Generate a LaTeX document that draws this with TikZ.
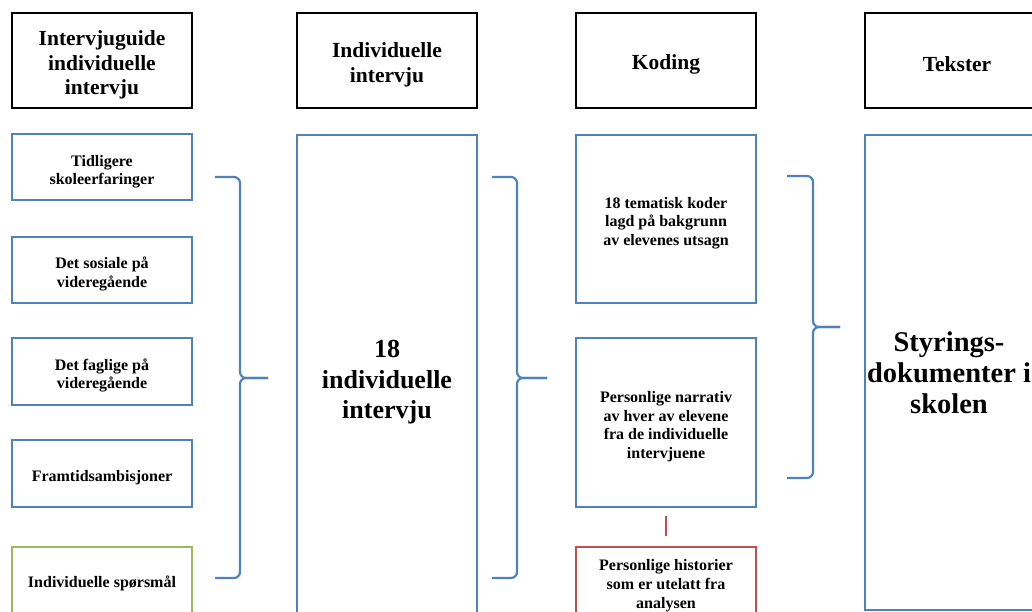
\documentclass[tikz,border=0pt]{standalone}
\usepackage{fontspec}
\setmainfont{Liberation Serif}
\definecolor{bblue}{RGB}{79,129,189}
\definecolor{bgreen}{RGB}{155,187,89}
\definecolor{bred}{RGB}{192,80,77}
\newcommand{\tr}[1]{\rule{0pt}{#1}}
\begin{document}
\begin{tikzpicture}[x=1pt,y=-1pt,
  hdr/.style={draw=black,line width=2.6pt,minimum width=180pt,minimum height=95pt,align=center,inner sep=2pt,font=\bfseries\fontsize{21.5}{24.5}\selectfont},
  sbox/.style={draw=bblue,line width=2pt,minimum width=180pt,align=center,inner sep=2pt,font=\bfseries\fontsize{16}{18.8}\selectfont},
  bigtxt/.style={font=\bfseries\fontsize{26}{30.5}\selectfont},
  rtxt/.style={font=\bfseries\fontsize{28.5}{31}\selectfont},
  brace/.style={draw=bblue,line width=2.2pt,rounded corners=6pt},
]
\useasboundingbox (0,0) rectangle (1032,612);
\clip (0,0) rectangle (1032,612);
% headers
\node[hdr] (h1) at (102,60.5) {\tr{24pt}Intervjuguide\\individuelle\\intervju};
\node[hdr] (h2) at (387,60.5) {\tr{24pt}Individuelle\\intervju};
\node[hdr] (h3) at (666,60.5) {\tr{22pt}Koding};
\node[hdr,minimum width=184pt] (h4) at (957,60.5) {\tr{22pt}Tekster};
% left column
\node[sbox,minimum height=66pt] (l1) at (102,167.5) {\tr{19.5pt}Tidligere\\skoleerfaringer};
\node[sbox,minimum height=66pt] (l2) at (102,270) {\tr{19.5pt}Det sosiale på\\videregående};
\node[sbox,minimum height=67pt] (l3) at (102,371.5) {\tr{19.5pt}Det faglige på\\videregående};
\node[sbox,minimum height=67pt] (l4) at (102,473.5) {\tr{19.5pt}Framtidsambisjoner};
\node[sbox,draw=bgreen,minimum height=72pt] (l5) at (102,583) {Individuelle spørsmål};
% middle
\node[sbox,minimum height=490pt,bigtxt] (mid) at (387,380) {\tr{22pt}18\\individuelle\\intervju};
% koding
\node[sbox,minimum height=168pt] (k1) at (666,219) {\tr{19.5pt}18 tematisk koder\\lagd på bakgrunn\\av elevenes utsagn};
\node[sbox,minimum height=169pt] (k2) at (666,422.5) {\tr{19.5pt}Personlige narrativ\\av hver av elevene\\fra de individuelle\\intervjuene};
\node[sbox,draw=bred,minimum height=74pt] (k3) at (666,584) {\tr{15pt}Personlige historier\\som er utelatt fra\\analysen};
% right
\node[sbox,minimum width=168pt,minimum height=475pt,rtxt,text depth=0pt] (tx) at (949,372.5) {Styrings-\\dokumenter i\\skolen};
% red connector
\draw[draw=bred,line width=2.2pt,shorten <=8pt,shorten >=10pt] (k2.south) -- (k3.north);
% braces
\coordinate (b1t) at (215,177); \coordinate (b1b) at (215,578); \coordinate (b1m) at (268,378);
\draw[brace] (b1t) -- (240,177) -- (240,378) -- (b1m);
\draw[brace] (b1b) -- (240,578) -- (240,378) -- (b1m);
\coordinate (b2t) at (492,177); \coordinate (b2b) at (492,578); \coordinate (b2m) at (547,378);
\draw[brace] (b2t) -- (517,177) -- (517,378) -- (b2m);
\draw[brace] (b2b) -- (517,578) -- (517,378) -- (b2m);
\coordinate (b3t) at (787,176); \coordinate (b3b) at (787,478); \coordinate (b3m) at (840,327);
\draw[brace] (b3t) -- (813,176) -- (813,327) -- (b3m);
\draw[brace] (b3b) -- (813,478) -- (813,327) -- (b3m);
\end{tikzpicture}
\end{document}
